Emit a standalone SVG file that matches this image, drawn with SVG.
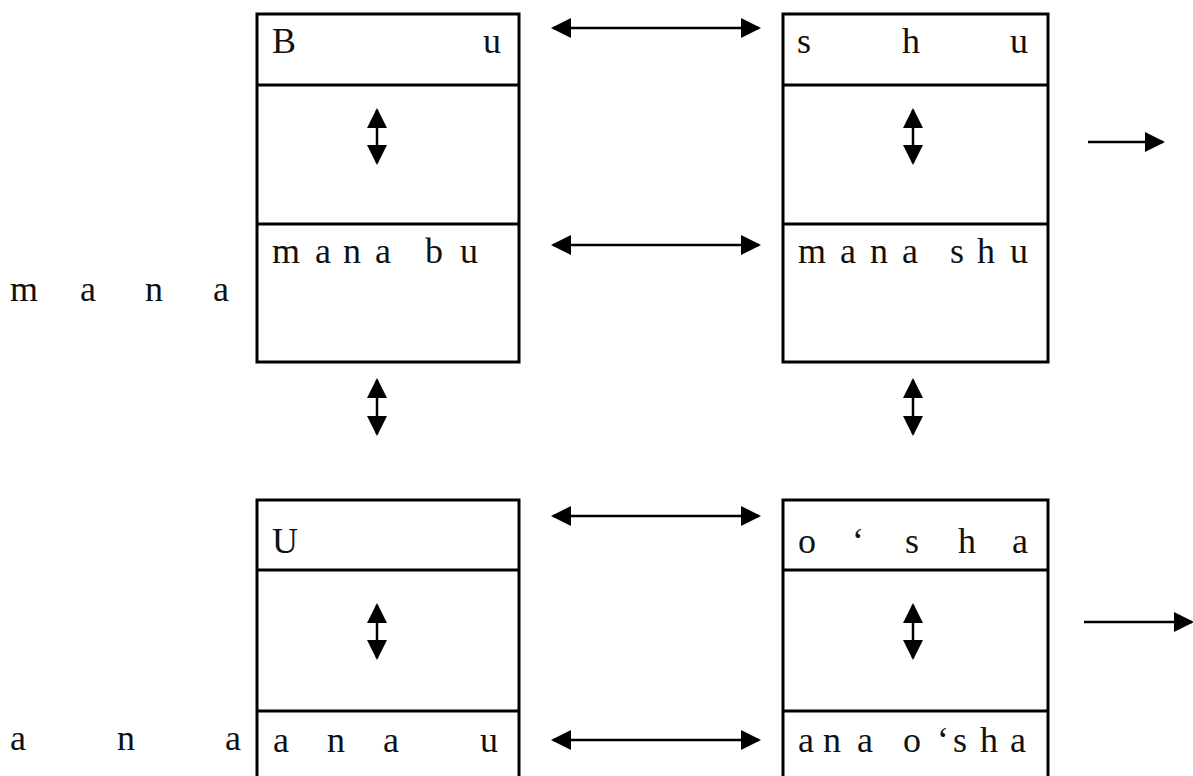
<svg xmlns="http://www.w3.org/2000/svg" width="1193" height="776" viewBox="0 0 1193 776">
<defs>
<marker id="ah" viewBox="0 0 10 10" refX="9" refY="5" markerWidth="8" markerHeight="8" markerUnits="strokeWidth" orient="auto-start-reverse">
<path d="M0,0 L10,5 L0,10 Z" fill="#000"/>
</marker>
<style>
.box{fill:#fff;stroke:#000;stroke-width:3}
.div{stroke:#000;stroke-width:3}
.t{font-family:"Liberation Serif","DejaVu Serif",serif;font-size:36px;fill:#111}
.c{stroke:#000;stroke-width:2.5;fill:none}
.d{marker-start:url(#ah);marker-end:url(#ah)}
.s{marker-end:url(#ah)}
</style>
</defs>
<rect width="1193" height="776" fill="#fff"/>
<g id="node-bu">
<rect class="box" x="257" y="14" width="262" height="348"/>
<line class="div" x1="257" y1="85" x2="519" y2="85"/>
<line class="div" x1="257" y1="224" x2="519" y2="224"/>
<text class="t" x="272 483" y="53">Bu</text>
<text class="t" x="272 315 343 375 425 460" y="263">manabu</text>
</g>
<g id="node-shu">
<rect class="box" x="783" y="14" width="265" height="348"/>
<line class="div" x1="783" y1="85" x2="1048" y2="85"/>
<line class="div" x1="783" y1="224" x2="1048" y2="224"/>
<text class="t" x="797 902 1010" y="53">shu</text>
<text class="t" x="798 840 870 902 950 977 1010" y="263">manashu</text>
</g>
<g id="node-u">
<rect class="box" x="257" y="500" width="262" height="290"/>
<line class="div" x1="257" y1="570" x2="519" y2="570"/>
<line class="div" x1="257" y1="711" x2="519" y2="711"/>
<text class="t" x="272" y="553">U</text>
<text class="t" x="273 327 383 480" y="752">anau</text>
</g>
<g id="node-osha">
<rect class="box" x="783" y="500" width="265" height="290"/>
<line class="div" x1="783" y1="570" x2="1048" y2="570"/>
<line class="div" x1="783" y1="711" x2="1048" y2="711"/>
<text class="t" x="798 852 905 958 1012" y="553">o‘sha</text>
<text class="t" x="798 823 857 903 937 953 980 1010" y="752">anao‘sha</text>
</g>
<g id="label-mana">
<text class="t" x="10 80 145 213" y="301">mana</text>
</g>
<g id="label-ana">
<text class="t" x="10 117 225" y="750">ana</text>
</g>
<g id="connectors">
<line class="c d" x1="553" y1="28" x2="759" y2="28"/>
<line class="c d" x1="553" y1="245" x2="759" y2="245"/>
<line class="c d" x1="553" y1="516" x2="759" y2="516"/>
<line class="c d" x1="553" y1="740" x2="759" y2="740"/>
<line class="c d" x1="377" y1="110" x2="377" y2="163"/>
<line class="c d" x1="913" y1="110" x2="913" y2="163"/>
<line class="c d" x1="377" y1="380" x2="377" y2="434"/>
<line class="c d" x1="913" y1="380" x2="913" y2="434"/>
<line class="c d" x1="377" y1="605" x2="377" y2="658"/>
<line class="c d" x1="913" y1="605" x2="913" y2="658"/>
<line class="c s" x1="1088" y1="142" x2="1163" y2="142"/>
<line class="c s" x1="1084" y1="622" x2="1192" y2="622"/>
</g>
</svg>
